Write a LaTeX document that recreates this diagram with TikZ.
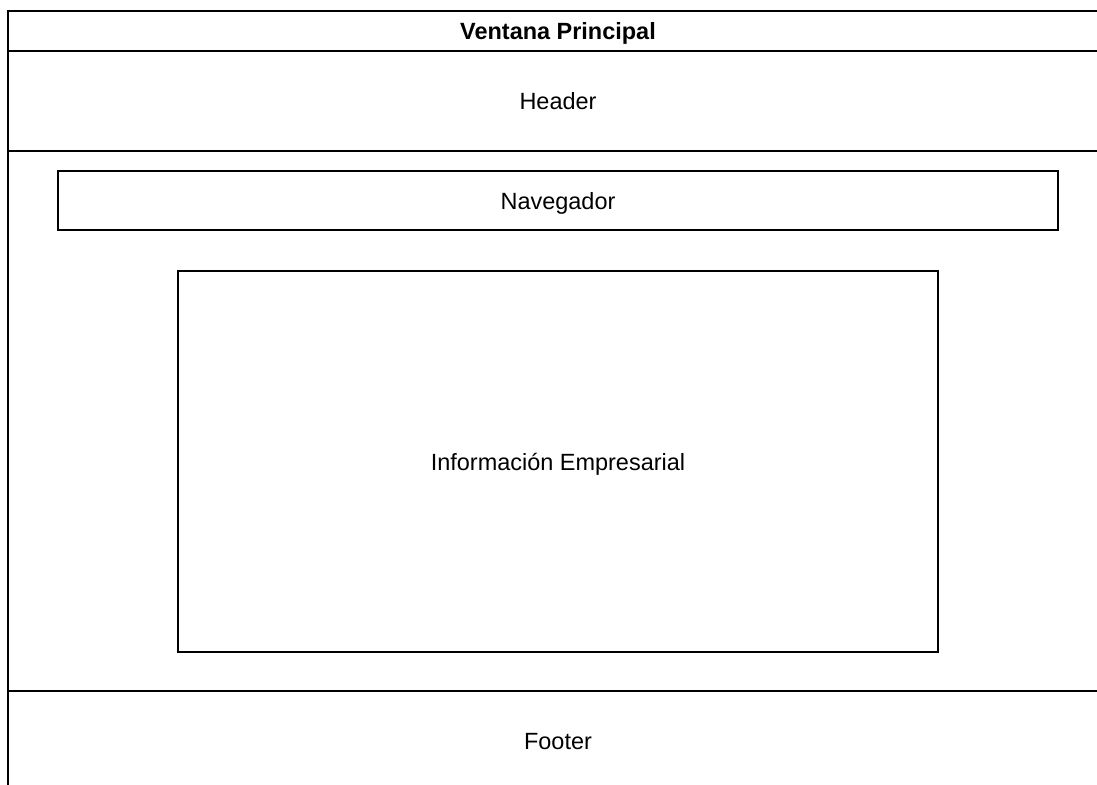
\documentclass[tikz,border=0pt]{standalone}
\usepackage{fontspec}
\setmainfont{Liberation Sans}
\usepackage{tikz}
\usetikzlibrary{positioning}

\begin{document}
\begin{tikzpicture}[
  x=0.75pt, y=-0.75pt,
  box/.style={draw=black, line width=1.5pt, inner sep=0pt, text depth=0pt, font=\fontsize{17.6}{20}\selectfont},
  lane/.style={box, minimum width=825pt}
]
\useasboundingbox (0,0) rectangle (1097,785);
\clip (0,0) rectangle (1097,785);

\node[lane, minimum height=30pt]  (title)  at (558,31)  {\bfseries Ventana Principal};
\node[lane, minimum height=75pt]  (header) at (558,101) {Header};
\node[lane, minimum height=405pt] (body)   at (558,421) {};
\node[lane, minimum height=75pt]  (footer) at (558,741) {Footer};

\node[box, minimum width=750pt, minimum height=43.9pt] (nav)  at (558,200.75) {Navegador};
\node[box, minimum width=570pt, minimum height=285.4pt] (info) at (558,461.75) {Información Empresarial};
\end{tikzpicture}
\end{document}
